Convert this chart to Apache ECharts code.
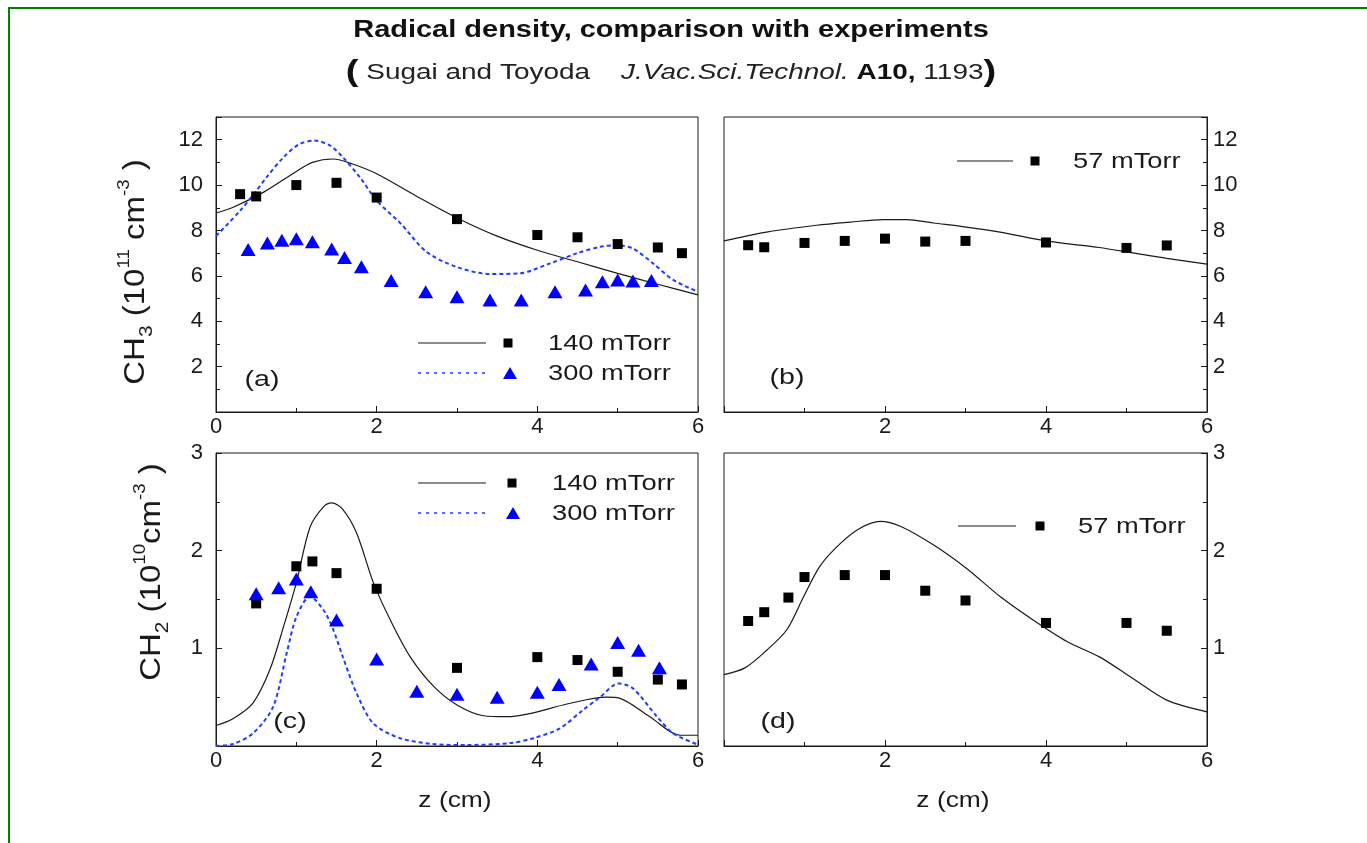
<!DOCTYPE html>
<html>
<head>
<meta charset="utf-8">
<title>Radical density, comparison with experiments</title>
<script src="https://cdn.jsdelivr.net/npm/echarts@6/dist/echarts.min.js"></script>
<style>
  html, body { margin: 0; padding: 0; background: #ffffff; }
  #chart { width: 1367px; height: 843px; }
</style>
</head>
<body>
<div id="chart"></div>
<script>
// ---- Axis ticks ----
const zTicksLeft  = [0, 2, 4, 6];
const zTicksRight = [2, 4, 6];
const ch3Ticks = [2, 4, 6, 8, 10, 12];
const ch2Ticks = [1, 2, 3];

// ---- (a) CH3, measured ----
const expA140_z = [0.3, 0.5, 1.0, 1.5, 2.0, 3.0, 4.0, 4.5, 5.0, 5.5, 5.8];
const expA140_n = [9.6, 9.5, 10.0, 10.1, 9.45, 8.5, 7.8, 7.7, 7.4, 7.25, 7.0];
const expA300_z = [0.4, 0.64, 0.82, 1.0, 1.2, 1.44, 1.6, 1.81, 2.18, 2.61, 3.0, 3.41, 3.8, 4.22, 4.6, 4.81, 5.0, 5.19, 5.42];
const expA300_n = [7.16, 7.45, 7.57, 7.64, 7.5, 7.18, 6.81, 6.4, 5.79, 5.3, 5.08, 4.94, 4.94, 5.3, 5.38, 5.74, 5.82, 5.77, 5.79];
// ---- (a) CH3, model ----
const modA140_z = [0, 0.2, 0.6, 1.0, 1.2, 1.46, 1.7, 2.0, 2.5, 3.0, 3.5, 4.0, 4.5, 5.0, 5.5, 6.0];
const modA140_n = [8.77, 9.0, 9.7, 10.6, 11.0, 11.15, 10.93, 10.5, 9.5, 8.55, 7.75, 7.13, 6.62, 6.11, 5.63, 5.16];
const modA300_z = [0, 0.3, 0.49, 0.63, 0.84, 1.04, 1.23, 1.42, 1.58, 1.79, 2.0, 2.3, 2.62, 2.99, 3.41, 3.78, 4.16, 4.49, 4.78, 4.99, 5.19, 5.44, 5.69, 6.0];
const modA300_n = [7.75, 8.87, 9.69, 10.35, 11.22, 11.81, 11.96, 11.74, 11.22, 10.35, 9.32, 8.3, 7.06, 6.4, 6.08, 6.11, 6.55, 6.99, 7.28, 7.35, 7.2, 6.55, 5.82, 5.3];

// ---- (b) CH3 at 57 mTorr ----
const expB_z = [0.3, 0.5, 1.0, 1.5, 2.0, 2.5, 3.0, 4.0, 5.0, 5.5];
const expB_n = [7.35, 7.26, 7.45, 7.54, 7.64, 7.51, 7.54, 7.47, 7.23, 7.34];
const modB_z = [0, 0.53, 1.15, 1.57, 1.98, 2.27, 2.6, 3.01, 3.43, 3.84, 4.25, 4.66, 5.08, 5.5, 6.0];
const modB_n = [7.54, 7.93, 8.23, 8.37, 8.48, 8.48, 8.33, 8.15, 7.93, 7.64, 7.42, 7.25, 7.01, 6.77, 6.52];

// ---- (c) CH2, measured ----
const expC140_z = [0.5, 1.0, 1.2, 1.5, 2.0, 3.0, 4.0, 4.5, 5.0, 5.5, 5.8];
const expC140_n = [1.46, 1.84, 1.89, 1.77, 1.61, 0.8, 0.91, 0.88, 0.76, 0.68, 0.63];
const expC300_z = [0.5, 0.78, 1.0, 1.18, 1.5, 2.0, 2.5, 3.0, 3.5, 4.0, 4.27, 4.67, 5.0, 5.26, 5.52];
const expC300_n = [1.56, 1.62, 1.71, 1.58, 1.29, 0.89, 0.56, 0.53, 0.5, 0.55, 0.63, 0.84, 1.06, 0.98, 0.8];
// ---- (c) CH2, model ----
const modC140_z = [0, 0.21, 0.46, 0.67, 0.84, 1.0, 1.17, 1.34, 1.44, 1.58, 1.75, 1.96, 2.17, 2.42, 2.71, 3.0, 3.33, 3.62, 3.95, 4.37, 4.86, 5.02, 5.4, 5.78, 6.0];
const modC140_n = [0.21, 0.28, 0.44, 0.78, 1.22, 1.67, 2.24, 2.45, 2.49, 2.42, 2.18, 1.67, 1.29, 0.91, 0.61, 0.42, 0.31, 0.3, 0.34, 0.43, 0.5, 0.49, 0.3, 0.11, 0.11];
const modC300_z = [0, 0.21, 0.46, 0.71, 0.88, 1.0, 1.17, 1.34, 1.46, 1.58, 1.75, 1.96, 2.29, 2.71, 3.12, 3.66, 3.95, 4.28, 4.57, 4.78, 5.01, 5.19, 5.49, 5.69, 5.98];
const modC300_n = [0.0, 0.02, 0.13, 0.4, 0.95, 1.32, 1.53, 1.39, 1.19, 0.91, 0.54, 0.23, 0.08, 0.02, 0.01, 0.03, 0.08, 0.18, 0.37, 0.5, 0.64, 0.59, 0.3, 0.13, 0.02];

// ---- (d) CH2 at 57 mTorr ----
const expD_z = [0.3, 0.5, 0.8, 1.0, 1.5, 2.0, 2.5, 3.0, 4.0, 5.0, 5.5];
const expD_n = [1.28, 1.37, 1.52, 1.73, 1.75, 1.75, 1.59, 1.49, 1.26, 1.26, 1.18];
const modD_z = [0, 0.26, 0.53, 0.78, 0.99, 1.19, 1.44, 1.69, 1.94, 2.19, 2.6, 3.01, 3.43, 3.84, 4.26, 4.67, 5.08, 5.5, 6.0];
const modD_n = [0.73, 0.8, 0.98, 1.19, 1.53, 1.84, 2.07, 2.23, 2.3, 2.25, 2.06, 1.82, 1.53, 1.29, 1.07, 0.91, 0.69, 0.47, 0.35];

// ---- styling ----
const INK = '#1a1a1a';
const BLUE_LINE = '#1f3cff';
const BLUE_MARK = '#0000ff';
const FONT = '"Liberation Sans", Arial, Helvetica, sans-serif';
const TEXT_STRETCH = 1.24;

const pairs = (zs, ns) => zs.map((z, i) => [z, ns[i]]);

function xAxisFor(gi, ticks) {
  return {
    type: 'value', gridIndex: gi, min: 0, max: 6, interval: 2,
    axisLine: { show: true, onZero: false, lineStyle: { color: INK, width: 1 } },
    axisTick: { show: true, inside: true, length: 6, lineStyle: { color: INK } },
    minorTick: { show: true, splitNumber: 2, length: 4, lineStyle: { color: INK } },
    splitLine: { show: false },
    axisLabel: {
      color: INK, fontSize: 22, fontFamily: FONT, margin: 4,
      showMinLabel: true, showMaxLabel: true,
      formatter: v => ticks.includes(v) ? String(v) : ''
    }
  };
}

function yAxisFor(gi, max, interval, ticks, side) {
  return {
    type: 'value', gridIndex: gi, min: 0, max: max, interval: interval, position: side,
    axisLine: { show: true, onZero: false, lineStyle: { color: INK, width: 1 } },
    axisTick: { show: true, inside: true, length: 6, lineStyle: { color: INK } },
    minorTick: { show: true, splitNumber: 2, length: 4, lineStyle: { color: INK } },
    splitLine: { show: false },
    axisLabel: {
      color: INK, fontSize: 22, fontFamily: FONT, margin: side === 'left' ? 13 : 6,
      showMinLabel: true, showMaxLabel: true,
      formatter: v => ticks.includes(v) ? String(v) : ''
    }
  };
}

function modelLine(name, gi, zs, ns, dashed) {
  return {
    name, type: 'line', xAxisIndex: gi, yAxisIndex: gi,
    data: pairs(zs, ns), showSymbol: false, symbol: 'none', smooth: 0.3,
    lineStyle: dashed
      ? { color: BLUE_LINE, width: 2, type: [4, 3] }
      : { color: INK, width: 1.2 },
    z: 2, silent: true
  };
}

function measured(name, gi, zs, ns, tri) {
  return {
    name, type: 'scatter', xAxisIndex: gi, yAxisIndex: gi,
    data: pairs(zs, ns),
    symbol: tri ? 'triangle' : 'rect',
    symbolSize: tri ? [15, 13] : 10,
    itemStyle: { color: tri ? BLUE_MARK : '#000000', opacity: 1 },
    z: 3, silent: true
  };
}

// legend key: sample line, marker, label
function legendRow(x0, x1, y, dashed, tri, mx, tx, label) {
  const els = [];
  els.push({
    type: 'line', shape: { x1: x0, y1: y, x2: x1, y2: y },
    style: dashed ? { stroke: BLUE_LINE, lineWidth: 1.5, lineDash: [3, 5] } : { stroke: INK, lineWidth: 1.2 }
  });
  if (tri) {
    els.push({ type: 'polygon', shape: { points: [[mx, y - 6], [mx + 7, y + 6], [mx - 7, y + 6]] }, style: { fill: BLUE_MARK } });
  } else {
    els.push({ type: 'rect', shape: { x: mx - 4.5, y: y - 4.5, width: 9, height: 9 }, style: { fill: '#000000' } });
  }
  els.push({
    type: 'text', x: tx, y: y + 1, scaleX: TEXT_STRETCH,
    style: { text: label, fontSize: 22, fontFamily: FONT, fill: INK, align: 'left', verticalAlign: 'middle' }
  });
  return els;
}

function panelTag(x, y, label) {
  return {
    type: 'text', x, y, scaleX: 1.3,
    style: { text: label, fontSize: 22, fontFamily: FONT, fill: INK, align: 'center', verticalAlign: 'middle' }
  };
}

const axisTitleRich = {
  m:  { fontSize: 30, fontFamily: FONT, fill: INK, lineHeight: 40 },
  sb: { fontSize: 19, fontFamily: FONT, fill: INK, verticalAlign: 'bottom' },
  sp: { fontSize: 17, fontFamily: FONT, fill: INK, verticalAlign: 'top' }
};

const graphics = [
  // frame
  { type: 'line', shape: { x1: 8, y1: 8, x2: 1367, y2: 8 }, style: { stroke: '#008000', lineWidth: 2 } },
  { type: 'line', shape: { x1: 9, y1: 7, x2: 9, y2: 843 }, style: { stroke: '#008000', lineWidth: 2 } },
  // headings
  {
    type: 'text', x: 671, y: 31, scaleX: 1.26,
    style: { text: 'Radical density, comparison with experiments', fontSize: 23, fontWeight: 'bold', fontFamily: FONT, fill: '#111111', align: 'center', verticalAlign: 'middle' }
  },
  {
    type: 'text', x: 671, y: 73, scaleX: 1.27,
    style: {
      text: '{p|(}{t| Sugai and Toyoda    }{i|J.Vac.Sci.Technol.}{b| A10,}{t| 1193}{p|)}',
      align: 'center', verticalAlign: 'middle', fontFamily: FONT, fontSize: 22,
      rich: {
        p: { fontSize: 30, fontWeight: 'bold', fontFamily: FONT, fill: '#111111' },
        t: { fontSize: 22, fontFamily: FONT, fill: '#222222' },
        i: { fontSize: 22, fontStyle: 'italic', fontFamily: FONT, fill: '#222222' },
        b: { fontSize: 22, fontWeight: 'bold', fontFamily: FONT, fill: '#111111' }
      }
    }
  },
  // y-axis titles
  {
    type: 'text', x: 136, y: 272, rotation: Math.PI / 2, scaleX: 1.1,
    style: {
      text: '{m|CH}{sb|3}{m| (10}{sp|11}{m| cm}{sp|-3}{m| )}',
      rich: axisTitleRich, align: 'center', verticalAlign: 'middle'
    }
  },
  {
    type: 'text', x: 152, y: 572, rotation: Math.PI / 2, scaleX: 1.1,
    style: {
      text: '{m|CH}{sb|2}{m| (10}{sp|10}{m|cm}{sp|-3}{m| )}',
      rich: axisTitleRich, align: 'center', verticalAlign: 'middle'
    }
  },
  // x-axis titles
  { type: 'text', x: 455, y: 801, scaleX: 1.2, style: { text: 'z (cm)', fontSize: 22, fontFamily: FONT, fill: INK, align: 'center', verticalAlign: 'middle' } },
  { type: 'text', x: 953, y: 801, scaleX: 1.2, style: { text: 'z (cm)', fontSize: 22, fontFamily: FONT, fill: INK, align: 'center', verticalAlign: 'middle' } },
  // panel tags
  panelTag(262, 380, '(a)'),
  panelTag(787, 378, '(b)'),
  panelTag(290, 722, '(c)'),
  panelTag(778, 722, '(d)'),
  // legends
  ...legendRow(418, 486, 343, false, false, 508, 548, '140 mTorr'),
  ...legendRow(418, 486, 373, true, true, 510, 548, '300 mTorr'),
  ...legendRow(957, 1013, 161, false, false, 1035, 1073, '57 mTorr'),
  ...legendRow(418, 486, 483, false, false, 512, 552, '140 mTorr'),
  ...legendRow(418, 486, 513, true, true, 513, 552, '300 mTorr'),
  ...legendRow(958, 1016, 526, false, false, 1040, 1078, '57 mTorr')
];

const option = {
  backgroundColor: '#ffffff',
  animation: false,
  textStyle: { fontFamily: FONT },
  grid: [
    { left: 216, top: 117, width: 482, height: 295, show: true, borderColor: INK, borderWidth: 1, backgroundColor: 'transparent' },
    { left: 724, top: 117, width: 483, height: 295, show: true, borderColor: INK, borderWidth: 1, backgroundColor: 'transparent' },
    { left: 216, top: 453, width: 482, height: 293, show: true, borderColor: INK, borderWidth: 1, backgroundColor: 'transparent' },
    { left: 724, top: 453, width: 483, height: 293, show: true, borderColor: INK, borderWidth: 1, backgroundColor: 'transparent' }
  ],
  xAxis: [
    xAxisFor(0, zTicksLeft),
    xAxisFor(1, zTicksRight),
    xAxisFor(2, zTicksLeft),
    xAxisFor(3, zTicksRight)
  ],
  yAxis: [
    yAxisFor(0, 13, 2, ch3Ticks, 'left'),
    yAxisFor(1, 13, 2, ch3Ticks, 'right'),
    yAxisFor(2, 3, 1, ch2Ticks, 'left'),
    yAxisFor(3, 3, 1, ch2Ticks, 'right')
  ],
  series: [
    modelLine('CH3 model 140 mTorr', 0, modA140_z, modA140_n, false),
    modelLine('CH3 model 300 mTorr', 0, modA300_z, modA300_n, true),
    measured('CH3 140 mTorr', 0, expA140_z, expA140_n, false),
    measured('CH3 300 mTorr', 0, expA300_z, expA300_n, true),

    modelLine('CH3 model 57 mTorr', 1, modB_z, modB_n, false),
    measured('CH3 57 mTorr', 1, expB_z, expB_n, false),

    modelLine('CH2 model 140 mTorr', 2, modC140_z, modC140_n, false),
    modelLine('CH2 model 300 mTorr', 2, modC300_z, modC300_n, true),
    measured('CH2 140 mTorr', 2, expC140_z, expC140_n, false),
    measured('CH2 300 mTorr', 2, expC300_z, expC300_n, true),

    modelLine('CH2 model 57 mTorr', 3, modD_z, modD_n, false),
    measured('CH2 57 mTorr', 3, expD_z, expD_n, false)
  ],
  graphic: graphics
};

const chart = echarts.init(document.getElementById('chart'), null, { renderer: 'canvas' });
chart.setOption(option);
</script>
</body>
</html>
